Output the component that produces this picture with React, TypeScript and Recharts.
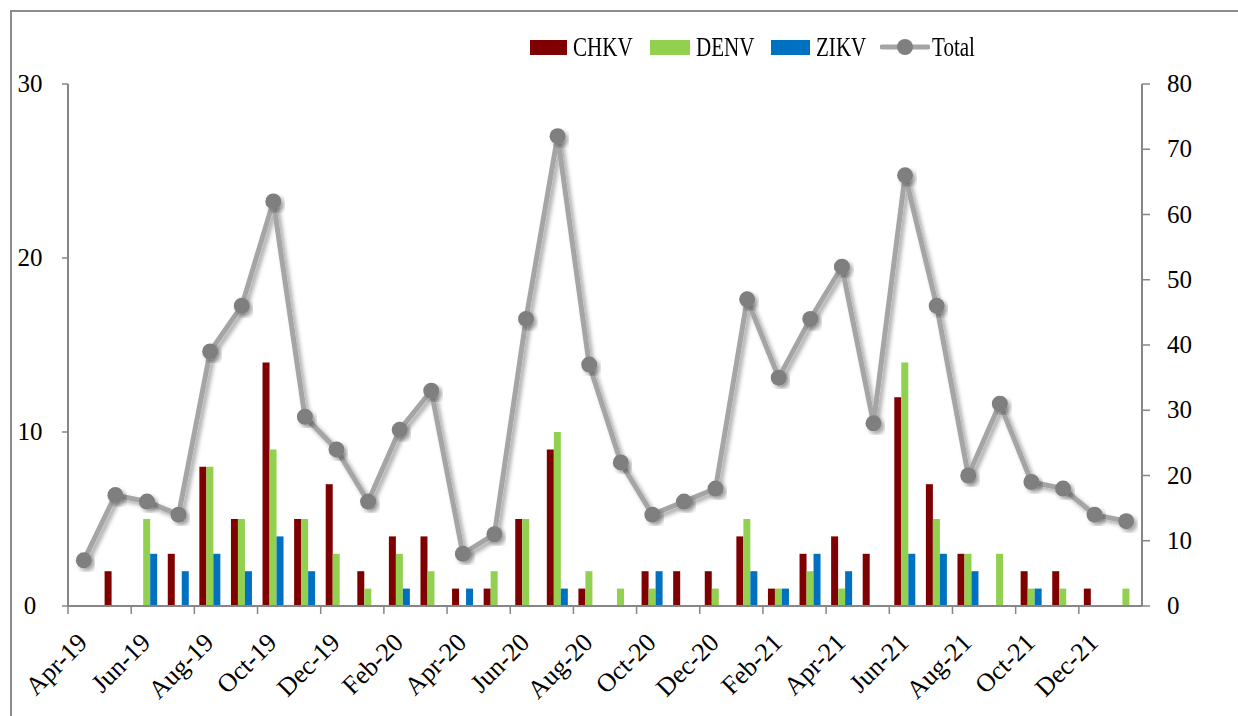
import React from 'react';
import { ComposedChart, Bar, Line, XAxis, YAxis } from 'recharts';

const months = [
  'Apr-19', 'May-19', 'Jun-19', 'Jul-19', 'Aug-19', 'Sep-19', 'Oct-19', 'Nov-19', 'Dec-19',
  'Jan-20', 'Feb-20', 'Mar-20', 'Apr-20', 'May-20', 'Jun-20', 'Jul-20', 'Aug-20', 'Sep-20',
  'Oct-20', 'Nov-20', 'Dec-20', 'Jan-21', 'Feb-21', 'Mar-21', 'Apr-21', 'May-21', 'Jun-21',
  'Jul-21', 'Aug-21', 'Sep-21', 'Oct-21', 'Nov-21', 'Dec-21', 'Jan-22',
];
const chkv = [0, 2, 0, 3, 8, 5, 14, 5, 7, 2, 4, 4, 1, 1, 5, 9, 1, 0, 2, 2, 2, 4, 1, 3, 4, 3, 12, 7, 3, 0, 2, 2, 1, 0];
const denv = [0, 0, 5, 0, 8, 5, 9, 5, 3, 1, 3, 2, 0, 2, 5, 10, 2, 1, 1, 0, 1, 5, 1, 2, 1, 0, 14, 5, 3, 3, 1, 1, 0, 1];
const zikv = [0, 0, 3, 2, 3, 2, 4, 2, 0, 0, 1, 0, 1, 0, 0, 1, 0, 0, 2, 0, 0, 2, 1, 3, 2, 0, 3, 3, 2, 0, 1, 0, 0, 0];
const total = [7, 17, 16, 14, 39, 46, 62, 29, 24, 16, 27, 33, 8, 11, 44, 72, 37, 22, 14, 16, 18, 47, 35, 44, 52, 28, 66, 46, 20, 31, 19, 18, 14, 13];
const leftTicks = [0, 10, 20, 30];
const rightTicks = [0, 10, 20, 30, 40, 50, 60, 70, 80];

const data = months.map((m, i) => ({ month: m, CHKV: chkv[i], DENV: denv[i], ZIKV: zikv[i], Total: total[i] }));

const W = 1238;
const H = 716;
const AXIS = '#868686';
const FONT = '"Liberation Serif", serif';
const PLOT_W = 1142 - 68;
const BAND = PLOT_W / months.length;

function XTick(props: any) {
  const { x, y, payload, index } = props;
  const left = x - BAND / 2;
  const ax = x + 5;
  const ay = y + 38;
  return (
    <g>
      <line x1={left} x2={left} y1={y} y2={y + 8} stroke={AXIS} strokeWidth={1.5} />
      {index === months.length - 2 && (
        <line x1={left + 2 * BAND} x2={left + 2 * BAND} y1={y} y2={y + 8} stroke={AXIS} strokeWidth={1.5} />
      )}
      <text
        x={ax}
        y={ay}
        transform={`rotate(-45 ${ax} ${ay})`}
        textAnchor="end"
        fontFamily={FONT}
        fontSize={26}
        fill="#000"
      >
        {payload.value}
      </text>
    </g>
  );
}

function LeftTick(props: any) {
  const { x, y, payload } = props;
  return (
    <text x={x - 30} y={y + 8} textAnchor="middle" fontFamily={FONT} fontSize={25} fill="#000">
      {payload.value}
    </text>
  );
}

function RightTick(props: any) {
  const { x, y, payload } = props;
  return (
    <text x={x + 15} y={y + 8} textAnchor="start" fontFamily={FONT} fontSize={25} fill="#000">
      {payload.value}
    </text>
  );
}

const legendItems = [
  { name: 'CHKV', color: '#7f0000', type: 'bar', width: 120 },
  { name: 'DENV', color: '#92d050', type: 'bar', width: 121 },
  { name: 'ZIKV', color: '#0070c0', type: 'bar', width: 109 },
  { name: 'Total', color: '#a5a5a5', type: 'line', width: 110 },
];

function LegendBox() {
  return (
    <div style={{ position: 'absolute', left: 530, top: 32, height: 30, display: 'flex', alignItems: 'center', fontFamily: FONT, fontSize: 27 }}>
      {legendItems.map((it) => (
        <div key={it.name} style={{ width: it.width, display: 'flex', alignItems: 'center' }}>
          {it.type === 'bar' ? (
            <div style={{ width: 46, height: 15, background: it.color, marginRight: 6 }} />
          ) : (
            <svg width={50} height={20} style={{ marginRight: 2 }}>
              <line x1={2} x2={48} y1={10} y2={10} stroke={it.color} strokeWidth={5} strokeLinecap="round" />
              <circle cx={25} cy={10} r={8} fill="#7f7f7f" />
            </svg>
          )}
          <span style={{ display: 'inline-block', transform: 'scaleX(0.78)', transformOrigin: 'left center', whiteSpace: 'nowrap' }}>
            {it.name}
          </span>
        </div>
      ))}
    </div>
  );
}

export default function App() {
  return (
    <div style={{ position: 'absolute', left: 0, top: 0, width: W, height: H, overflow: 'hidden', background: '#fff' }}>
      <div style={{ position: 'absolute', left: 10, top: 10, width: W + 20, height: H + 20, border: '2px solid #8c8c8c' }} />
      <ComposedChart
        width={W}
        height={H}
        data={data}
        margin={{ top: 84, right: 0, bottom: 0, left: 0 }}
        barGap={0}
        style={{ position: 'absolute', left: 0, top: 0 }}
      >
        <defs>
          <filter id="shadow" x="-20%" y="-20%" width="140%" height="140%">
            <feDropShadow dx={3} dy={3} stdDeviation={2} floodColor="#000" floodOpacity={0.35} />
          </filter>
        </defs>
        <XAxis
          dataKey="month"
          height={110}
          interval={1}
          tickLine={false}
          tickSize={0}
          tickMargin={0}
          axisLine={{ stroke: AXIS, strokeWidth: 2 }}
          tick={<XTick />}
        />
        <YAxis
          yAxisId="left"
          width={68}
          domain={[0, 30]}
          ticks={leftTicks}
          tickSize={6}
          tickLine={{ stroke: AXIS, strokeWidth: 1.5 }}
          axisLine={{ stroke: AXIS, strokeWidth: 2 }}
          tick={<LeftTick />}
        />
        <YAxis
          yAxisId="right"
          orientation="right"
          width={96}
          domain={[0, 80]}
          ticks={rightTicks}
          tickSize={8}
          tickLine={{ stroke: AXIS, strokeWidth: 1.5 }}
          axisLine={{ stroke: AXIS, strokeWidth: 2 }}
          tick={<RightTick />}
        />
        <Bar yAxisId="left" dataKey="CHKV" fill="#7f0000" barSize={7} isAnimationActive={false} />
        <Bar yAxisId="left" dataKey="DENV" fill="#92d050" barSize={7} isAnimationActive={false} />
        <Bar yAxisId="left" dataKey="ZIKV" fill="#0070c0" barSize={7} isAnimationActive={false} />
        <Line
          yAxisId="right"
          dataKey="Total"
          stroke="#a5a5a5"
          strokeWidth={5}
          dot={{ r: 8, fill: '#7f7f7f', stroke: 'none', filter: 'url(#shadow)' }}
          activeDot={false}
          filter="url(#shadow)"
          isAnimationActive={false}
        />
      </ComposedChart>
      <LegendBox />
    </div>
  );
}
